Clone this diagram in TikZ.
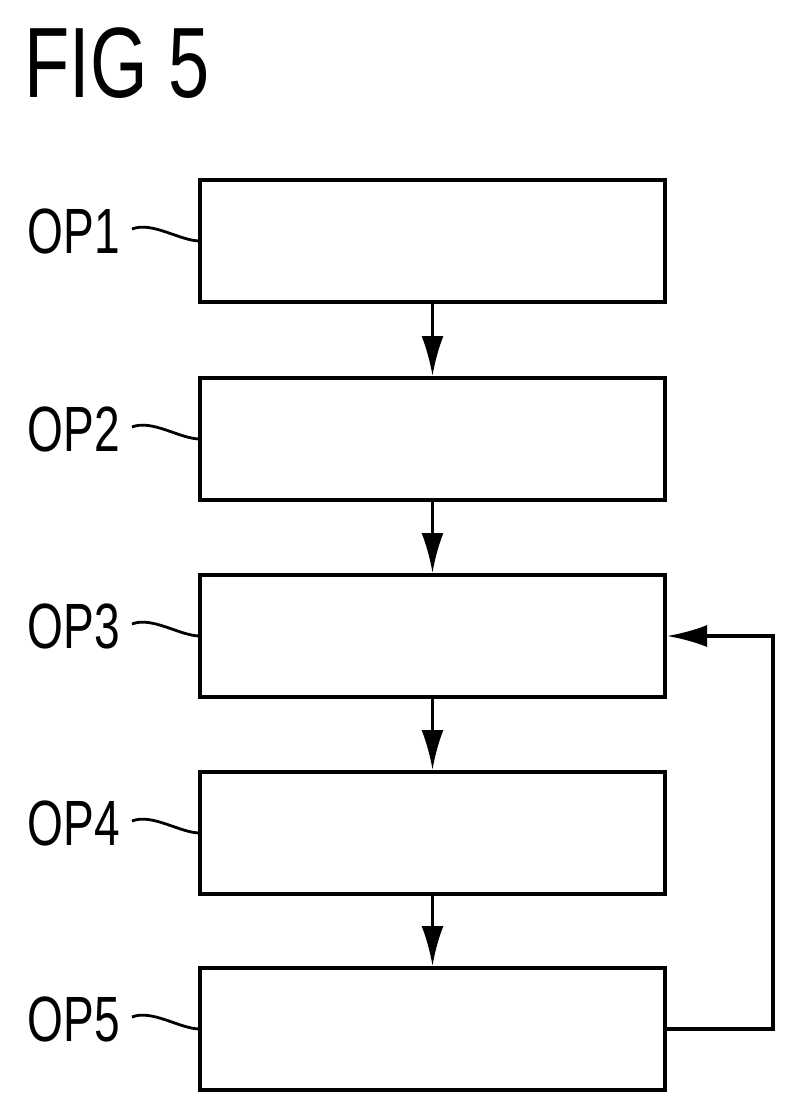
\documentclass[tikz,border=0pt]{standalone}
\usepackage{fontspec}
\setmainfont{Liberation Sans}
\usetikzlibrary{calc,arrows.meta}
\tikzset{
  opbox/.style={draw,line width=2pt,minimum width=232.5pt,minimum height=61pt,inner sep=0pt},
  oplabel/.style={font=\fontsize{32}{32}\selectfont,xscale=0.72,anchor=east,inner sep=0pt},
  flow/.style={line width=1.6pt,-{Latex[length=20pt,width=11pt]}},
  wave/.style={line width=1.4pt}
}
\begin{document}
\begin{tikzpicture}[x=0.5pt,y=-0.5pt]
        %%% FRAME %%%
        \useasboundingbox (0,0) rectangle (796,1116);
        \node[font=\fontsize{50}{50}\selectfont,xscale=0.74,anchor=west,inner sep=0pt] (title) at (24,63) {FIG 5};

        %%% BOXES %%%
        \foreach \i/\y in {1/241,2/439,3/636,4/833,5/1029}{
            \node[opbox] (op\i) at (432.5,\y) {};
            \node[oplabel] (lab\i) at (120,\y-10) {OP\i};
            \coordinate (t\i) at (132,\y-12);
            \coordinate (e\i) at (200,\y);
            \draw[wave] (t\i) .. controls +(20,-8) and +(-20,0) .. (e\i);
        }

        %%% ARROWS %%%
        \foreach \a/\b in {1/2,2/3,3/4,4/5}
            \draw[flow] (op\a.south) -- (op\b.north);
        \coordinate (fb) at (773,1029);
        \draw[flow] (op5.east) -- (fb) -- (fb |- op3.east) -- (op3.east);
\end{tikzpicture}
\end{document}
